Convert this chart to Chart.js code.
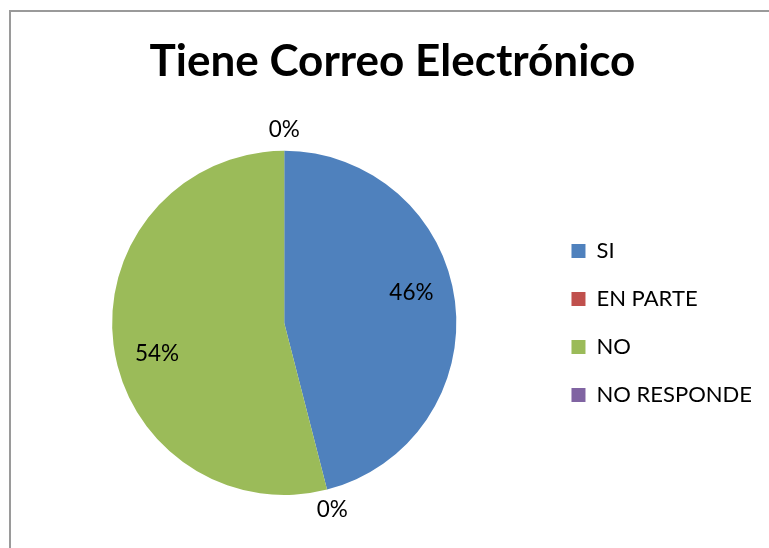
<!DOCTYPE html>
<html>
<head>
<meta charset="utf-8">
<script src="https://cdn.jsdelivr.net/npm/chart.js@4/dist/chart.umd.min.js"></script>
<style>
  html, body { margin: 0; padding: 0; background: #fff; overflow: hidden; }
  #frame {
    position: absolute; left: 9px; top: 10px; width: 780px; height: 560px;
    border-top: 2px solid #9a9a9a; border-left: 2px solid #9a9a9a;
  }
  #chart { position: absolute; left: 11px; top: 0; }
</style>
</head>
<body>
<div id="frame"></div>
<canvas id="chart" width="758" height="548"></canvas>
<script>
var titleText = 'Tiene Correo Electrónico';
var categories = ['SI', 'EN PARTE', 'NO', 'NO RESPONDE'];
var percentages = [46, 0, 54, 0];
var sliceColors = ['#4F81BD', '#C0504D', '#9BBB59', '#8064A2'];

// data labels, Excel style: inside for real slices, just outside for 0%
var pieLabels = {
    id: 'pieLabels',
    afterDatasetsDraw: function(chart) {
        var ctx = chart.ctx;
        var meta = chart.getDatasetMeta(0);
        ctx.save();
        ctx.font = '22.5px Lato';
        ctx.fillStyle = '#000';
        ctx.textAlign = 'center';
        ctx.textBaseline = 'middle';
        for (var i = 0; i < meta.data.length; i++) {
            var arc = meta.data[i];
            var value = percentages[i];
            var mid = (arc.startAngle + arc.endAngle) / 2;
            var r;
            if (value > 0) {
                mid -= 0.11;
                r = arc.outerRadius * 0.76;
            } else {
                r = arc.outerRadius + 21;
            }
            ctx.fillText(value + '%', arc.x + Math.cos(mid) * r, arc.y + Math.sin(mid) * r);
        }
        ctx.restore();
    }
};

var chart = new Chart(document.getElementById('chart'), {
    type: 'pie',
    data: {
        labels: categories,
        datasets: [{
            data: percentages,
            backgroundColor: sliceColors,
            borderWidth: 0
        }]
    },
    options: {
        responsive: false,
        animation: false,
        layout: { padding: { left: 12, right: 7, top: 0, bottom: 53 } },
        plugins: {
            title: {
                display: true,
                text: titleText,
                color: '#000',
                font: { family: 'Lato', size: 44, weight: 'bold' },
                padding: { top: 35, bottom: 63 }
            },
            legend: {
                position: 'right',
                fullSize: false,
                labels: {
                    color: '#000',
                    font: { family: 'Lato', size: 22 },
                    boxWidth: 14,
                    boxHeight: 14,
                    padding: 26
                }
            },
            tooltip: { enabled: false }
        }
    },
    plugins: [pieLabels]
});
</script>
</body>
</html>
